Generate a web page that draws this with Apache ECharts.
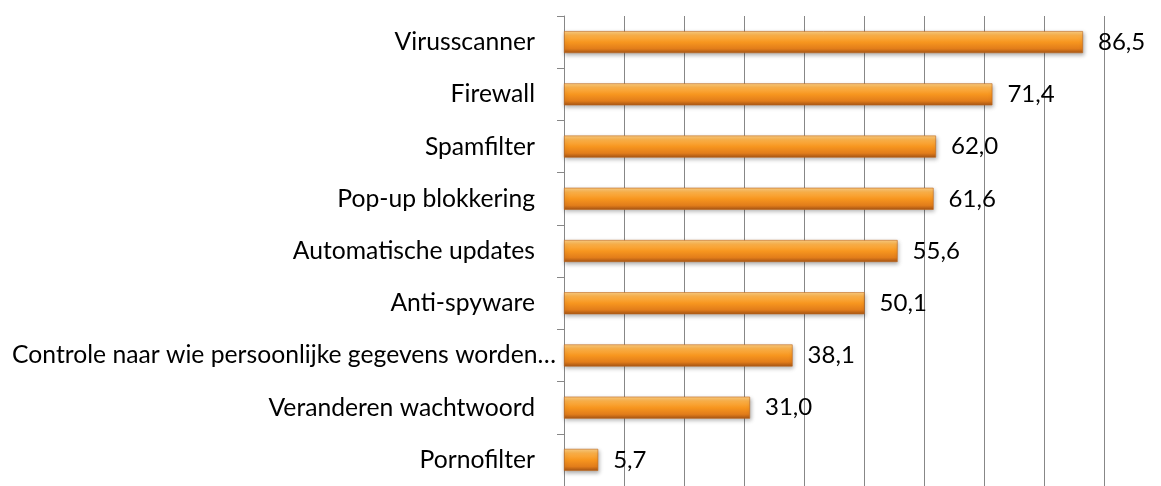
<!DOCTYPE html>
<html>
<head>
<meta charset="utf-8">
<script src="https://cdn.jsdelivr.net/npm/echarts@6/dist/echarts.min.js"></script>
<style>
  html, body { margin: 0; padding: 0; background: #fff; }
  #chart { width: 1161px; height: 486px; }
</style>
</head>
<body>
<div id="chart"></div>
<script>
// Beveiligingsmaatregelen (percentage), top to bottom
const categories = [
  'Virusscanner',
  'Firewall',
  'Spamfilter',
  'Pop-up blokkering',
  'Automatische updates',
  'Anti-spyware',
  'Controle naar wie persoonlijke gegevens worden…',
  'Veranderen wachtwoord',
  'Pornofilter'
];
const values = [86.5, 71.4, 62.0, 61.6, 55.6, 50.1, 38.1, 31.0, 5.7];
const axisMin = 0;
const axisMax = 90;
const axisStep = 10;

const FONT = 'Lato';
const FS = 24.7;

const chart = echarts.init(document.getElementById('chart'), null, { renderer: 'canvas' });

const barFill = new echarts.graphic.LinearGradient(0, 0, 0, 1, [
  { offset: 0.0, color: '#fdcf84' },
  { offset: 0.2, color: '#fbb048' },
  { offset: 0.5, color: '#f7961f' },
  { offset: 0.8, color: '#e27d1a' },
  { offset: 1.0, color: '#a55415' }
]);

chart.setOption({
  animation: false,
  backgroundColor: '#ffffff',
  grid: { left: 564, right: 57, top: 16, bottom: -7, containLabel: false },
  xAxis: {
    type: 'value',
    min: axisMin,
    max: axisMax,
    interval: axisStep,
    axisLine: { show: false },
    axisTick: { show: false },
    axisLabel: { show: false },
    splitLine: { show: true, lineStyle: { color: '#878787', width: 1 } }
  },
  yAxis: {
    type: 'category',
    data: categories,
    inverse: true,
    axisLine: { show: true, lineStyle: { color: '#878787', width: 1 } },
    axisTick: { show: true, length: 7, lineStyle: { color: '#878787' } },
    splitLine: { show: false },
    axisLabel: {
      margin: 8,
      color: '#000',
      fontFamily: FONT,
      fontSize: FS,
      formatter: (v) => v.length > 40 ? '{l|' + v + '}' : '{n|' + v + '}',
      rich: {
        n: { fontFamily: FONT, fontSize: FS, color: '#000', padding: [0, 21, 0, 0] },
        l: { fontFamily: FONT, fontSize: FS, color: '#000', padding: [0, 0, 0, 0] }
      }
    }
  },
  series: [{
    type: 'bar',
    data: values,
    barWidth: 22,
    itemStyle: {
      color: barFill,
      borderColor: '#c0661a',
      borderWidth: 0.6,
      shadowColor: 'rgba(0,0,0,0.30)',
      shadowBlur: 4,
      shadowOffsetX: 1,
      shadowOffsetY: 2
    },
    label: {
      show: true,
      position: 'right',
      distance: 15,
      color: '#000',
      fontFamily: FONT,
      fontSize: 24,
      formatter: (p) => p.value.toFixed(1).replace('.', ',')
    }
  }]
});
</script>
</body>
</html>
